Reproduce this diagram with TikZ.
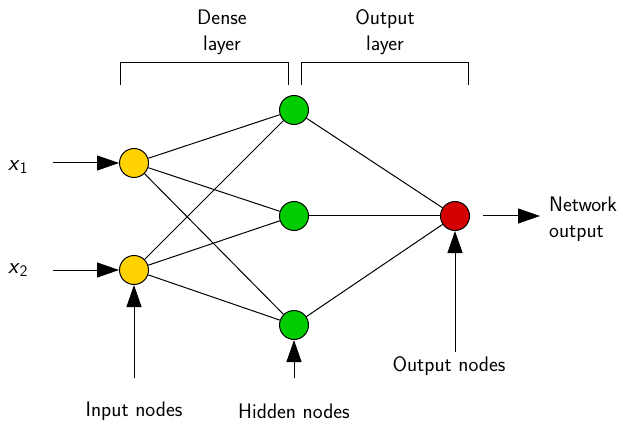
\documentclass[tikz,border=0pt]{standalone}
\usetikzlibrary{arrows.meta}
\renewcommand{\familydefault}{\sfdefault}
\begin{document}
\begin{tikzpicture}[x=1pt,y=-1pt,
  neuron/.style={circle,draw=black,line width=1pt,minimum size=29pt,inner sep=0pt},
  inp/.style={neuron,fill={rgb,255:red,255;green,210;blue,0}},
  hid/.style={neuron,fill={rgb,255:red,0;green,204;blue,0}},
  outn/.style={neuron,fill={rgb,255:red,210;green,0;blue,0}},
  conn/.style={line width=1pt},
  bigarrow/.style={line width=1pt,-{Triangle[length=22pt,width=15pt]}},
  lbl/.style={font=\fontsize{21}{26}\selectfont,align=center,inner sep=0pt},
  xlbl/.style={font=\fontsize{23}{26}\selectfont,inner sep=0pt},
  brk/.style={line width=1pt}]
\useasboundingbox (0,0) rectangle (623,430);
\node[inp] (i1) at (134,163) {};
\node[inp] (i2) at (134,270) {};
\node[hid] (h1) at (294,110) {};
\node[hid] (h2) at (294,216) {};
\node[hid] (h3) at (294,325) {};
\node[outn] (o) at (455,216) {};
\foreach \a in {i1,i2}{\foreach \b in {h1,h2,h3}{\draw[conn] (\a) -- (\b);}}
\foreach \b in {h1,h2,h3}{\draw[conn] (\b) -- (o);}
% inputs
\node[xlbl] (x1) at (18,167) {\textit{x}\textsubscript{1}};
\node[xlbl] (x2) at (18,270) {\textit{x}\textsubscript{2}};
\coordinate (x1s) at (53,163);
\coordinate (x2s) at (53,270);
\draw[bigarrow] (x1s) -- (i1);
\draw[bigarrow] (x2s) -- (i2);
% output
\coordinate (os) at (483,216);
\coordinate (oe) at (540,216);
\draw[bigarrow] (os) -- (oe);
\node[lbl,anchor=west,align=left] (net) at (549,219) {Network\\output};
% bottom labels
\node[lbl] (inl) at (134,411) {Input nodes};
\node[lbl] (hil) at (294,411) {Hidden nodes};
\node[lbl] (oul) at (449,366) {Output nodes};
\coordinate (ina) at (134,378);
\coordinate (hia) at (294,378);
\coordinate (oua) at (455,352);
\draw[bigarrow] (ina) -- (i2);
\draw[bigarrow] (hia) -- (h3);
\draw[bigarrow] (oua) -- (o);
% brackets
\draw[brk] (120,85) -- (120,63) -- (288,63) -- (288,85);
\draw[brk] (301,85) -- (301,63) -- (468,63) -- (468,85);
\node[lbl] (dl) at (222,32) {Dense\\layer};
\node[lbl] (ol) at (385,32) {Output\\layer};
\end{tikzpicture}
\end{document}
